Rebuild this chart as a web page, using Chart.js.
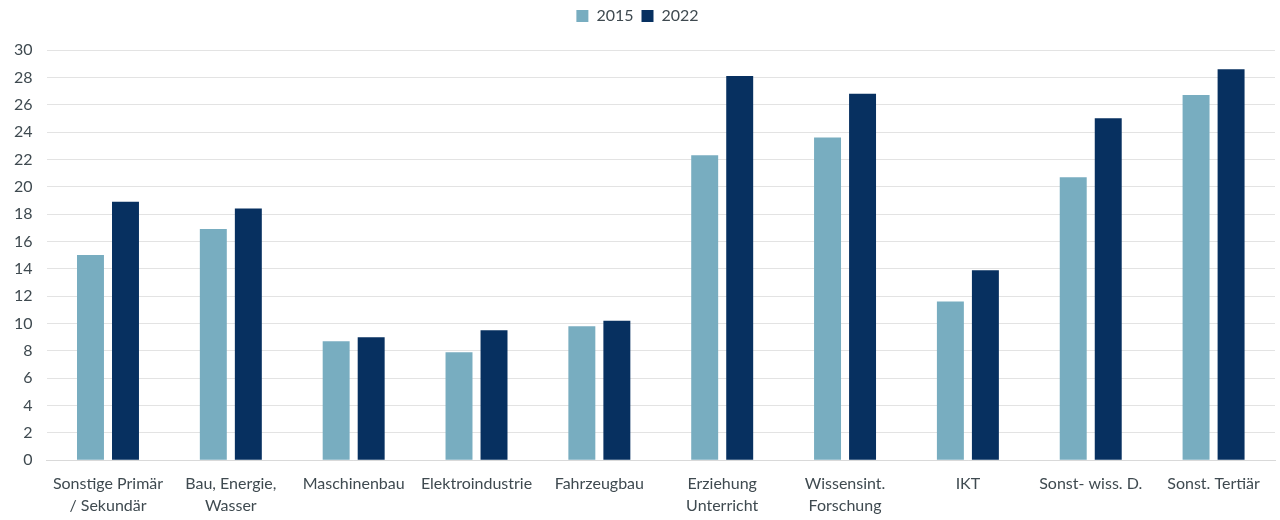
<!DOCTYPE html>
<html>
<head>
<meta charset="utf-8">
<script src="https://cdn.jsdelivr.net/npm/chart.js@4"></script>
<style>
  html, body { margin: 0; padding: 0; background: #fff; }
  #wrap { width: 1280px; height: 520px; }
</style>
</head>
<body>
<div id="wrap"><canvas id="barChart"></canvas></div>
<script>
const categories = [
    ['Sonstige Primär', '/ Sekundär'],
    ['Bau, Energie,', 'Wasser'],
    'Maschinenbau',
    'Elektroindustrie',
    'Fahrzeugbau',
    ['Erziehung', 'Unterricht'],
    ['Wissensint.', 'Forschung'],
    'IKT',
    'Sonst- wiss. D.',
    'Sonst. Tertiär'
];
const values2015 = [15.0, 16.9, 8.7, 7.9, 9.8, 22.3, 23.6, 11.6, 20.7, 26.7];
const values2022 = [18.9, 18.4, 9.0, 9.5, 10.2, 28.1, 26.8, 13.9, 25.0, 28.6];
const seriesLabels = ['2015', '2022'];

// extra room under the legend
const legendSpacer = {
    id: 'legendSpacer',
    beforeInit(chart) {
        const origFit = chart.legend.fit;
        chart.legend.fit = function() {
            origFit.bind(chart.legend)();
            this.height += 16;
        };
    }
};

document.addEventListener("DOMContentLoaded", function() {
    const ctx = document.getElementById('barChart').getContext('2d');
    Chart.defaults.font.family = 'Lato, "Open Sans", sans-serif';
    Chart.defaults.color = '#3f4a50';

    new Chart(ctx, {
        type: 'bar',
        data: {
            labels: categories,
            datasets: [{
                label: seriesLabels[0],
                data: values2015,
                backgroundColor: '#78adc0'
            }, {
                label: seriesLabels[1],
                data: values2022,
                backgroundColor: '#073060'
            }]
        },
        options: {
            responsive: true,
            maintainAspectRatio: false,
            animation: false,
            layout: { padding: { left: 0, right: 5, top: 0, bottom: -1 } },
            datasets: { bar: { categoryPercentage: 0.57, barPercentage: 0.77 } },
            plugins: {
                legend: {
                    position: 'top',
                    labels: { boxWidth: 12, boxHeight: 12, padding: 8, font: { size: 16 } }
                },
                tooltip: { enabled: false }
            },
            scales: {
                x: {
                    grid: { display: false },
                    border: { color: '#d9d9d9' },
                    ticks: { font: { size: 16, lineHeight: 1.4 }, maxRotation: 0, autoSkip: false, padding: 4 }
                },
                y: {
                    min: 0,
                    max: 30,
                    ticks: { stepSize: 2, font: { size: 16 }, padding: 14 },
                    grid: { color: '#e3e3e3', drawTicks: false },
                    border: { display: false }
                }
            }
        },
        plugins: [legendSpacer]
    });
});
</script>
</body>
</html>
